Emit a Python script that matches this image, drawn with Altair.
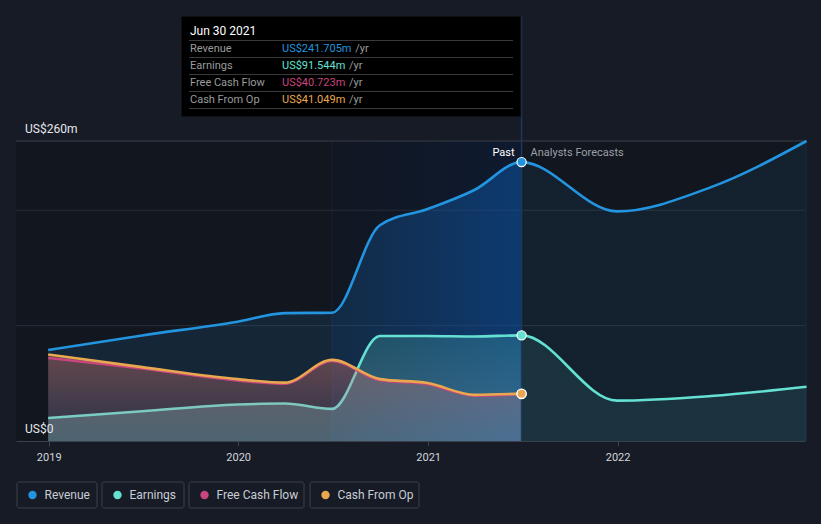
import altair as alt
import pandas as pd
import jinja2

# ---------------- data ----------------
past_dates = ["2018-12-31", "2019-06-30", "2019-12-31", "2020-03-31", "2020-06-30",
              "2020-09-30", "2020-12-31", "2021-03-31", "2021-06-30"]
revenue_past = [78.9, 91.5, 103.4, 110.8, 111.2, 187.0, 201.0, 217.5, 241.705]
earnings_past = [20.0, 25.8, 31.6, 32.5, 27.8, 91.0, 91.0, 90.6, 91.544]
fcf_past = [72.0, 62.8, 52.5, 49.6, 69.3, 52.6, 49.2, 39.3, 40.723]
cfo_past = [75.0, 64.0, 53.6, 50.6, 70.3, 53.6, 50.2, 40.0, 41.049]

forecast_dates = ["2021-06-30", "2021-12-31", "2022-06-30", "2022-12-31"]
revenue_fc = [241.705, 199.0, 220.0, 260.0]
earnings_fc = [91.544, 35.0, 39.0, 47.0]

series_names = ["Revenue", "Earnings", "Free Cash Flow", "Cash From Op"]
series_colors = ["#2394df", "#64e1d2", "#c8457f", "#e9a84f"]
tooltip_date = "Jun 30 2021"
y_tick_values = [0, 100, 200, 260]
y_tick_labels = {0: "US$0", 260: "US$260m"}
x_tick_years = [2019, 2020, 2021, 2022]
band_range = ["2020-06-30", "2021-06-30"]

# ---------------- layout ----------------
W, H = 789, 425
Y_MAX = 260 * H / 300.0
BG = "#161b26"
FONT = "Roboto"

x_scale = alt.Scale(type="utc", domain=[alt.DateTime(year=2018, month=10, date=30, utc=True),
                                        alt.DateTime(year=2022, month=12, date=28, utc=True)])
y_scale = alt.Scale(domain=[0, Y_MAX], nice=False, zero=True)

x_axis = alt.Axis(values=[alt.DateTime(year=y, month=1, date=1, utc=True) for y in x_tick_years],
                  labelExpr="utcFormat(datum.value, '%Y')", grid=False, title=None,
                  domainColor="#3b414b", tickColor="#3b414b", tickSize=5, labelColor="#d2d5da",
                  labelFontSize=11, labelFont=FONT, labelPadding=5, domainWidth=1)


def X(field):
    return alt.X(f"{field}:T", scale=x_scale, axis=x_axis)


def Y(field):
    return alt.Y(f"{field}:Q", scale=y_scale, axis=None)


def df_of(dates, vals):
    return pd.DataFrame({"date": dates, "value": vals})


all_dates = past_dates + forecast_dates[1:]
fcf_p = df_of(past_dates, fcf_past)
cfo_p = df_of(past_dates, cfo_past)
ear_p = df_of(past_dates, earnings_past)
rev_all = df_of(all_dates, revenue_past + revenue_fc[1:])
ear_all = df_of(all_dates, earnings_past + earnings_fc[1:])

t_all = pd.to_datetime(all_dates)
span = t_all[-1] - t_all[0]
split = float((pd.Timestamp(band_range[1]) - t_all[0]) / span)
band_start = float((pd.Timestamp(band_range[0]) - t_all[0]) / span)


def vgrad(top, bottom):
    return alt.Gradient(gradient="linear", x1=0, x2=0, y1=0, y2=1,
                        stops=[alt.GradientStop(offset=0, color=top),
                               alt.GradientStop(offset=1, color=bottom)])


def hgrad(left, right):
    return alt.Gradient(gradient="linear", x1=0, x2=1, y1=0, y2=0,
                        stops=[alt.GradientStop(offset=0, color=left),
                               alt.GradientStop(offset=1, color=right)])


def split_grad(past_col, fc_col):
    return alt.Gradient(gradient="linear", x1=0, x2=1, y1=0, y2=0,
                        stops=[alt.GradientStop(offset=0, color=past_col),
                               alt.GradientStop(offset=split, color=past_col),
                               alt.GradientStop(offset=split, color=fc_col),
                               alt.GradientStop(offset=1, color=fc_col)])


def band_grad(left, right):
    clear = "rgba(0,0,0,0)"
    return alt.Gradient(gradient="linear", x1=0, x2=1, y1=0, y2=0,
                        stops=[alt.GradientStop(offset=0, color=clear),
                               alt.GradientStop(offset=band_start, color=clear),
                               alt.GradientStop(offset=band_start, color=left),
                               alt.GradientStop(offset=split, color=right),
                               alt.GradientStop(offset=split, color=clear),
                               alt.GradientStop(offset=1, color=clear)])


one = pd.DataFrame({"k": [0]})

# darker plot region below the top gridline
plot_bg = alt.Chart(pd.DataFrame({"t": [260], "z": [0]})).mark_rect(color="#12161e").encode(
    x=alt.value(0), x2=alt.value(W), y=Y("t"), y2="z:Q")

# highlighted last year band
band_df = pd.DataFrame({"a": [band_range[0]], "b": [band_range[1]], "t": [260], "z": [0]})
band = alt.Chart(band_df).mark_rect(
    color=hgrad("rgba(0,40,110,0.05)", "rgba(0,40,110,0.22)")).encode(
    x=alt.X("a:T", scale=x_scale, axis=x_axis), x2="b:T", y=Y("t"), y2="z:Q")
band_edge = alt.Chart(band_df).mark_rule(color="#172338", strokeWidth=1).encode(
    x=alt.X("a:T", scale=x_scale, axis=x_axis), y=Y("t"), y2="z:Q")

# gridlines
grid_df = pd.DataFrame({"v": [v for v in y_tick_values if v != 0]})
grid = alt.Chart(grid_df).mark_rule(strokeWidth=1).encode(
    y=Y("v"), x=alt.value(0), x2=alt.value(W),
    color=alt.condition("datum.v == 260", alt.value("#3a3f48"), alt.value("#272d37")))

ylab_df = pd.DataFrame({"v": list(y_tick_labels.keys()), "t": list(y_tick_labels.values())})
ylabels = alt.Chart(ylab_df).mark_text(align="left", baseline="middle", dy=-12, font=FONT, fontSize=12,
                                        color="#e6e8eb").encode(y=Y("v"), x=alt.value(9), text="t:N")

interp = "monotone"

rev_area = alt.Chart(rev_all).mark_area(
    interpolate=interp, color=split_grad("rgba(35,148,223,0.13)", "rgba(35,148,223,0.09)")).encode(
    x=X("date"), y=Y("value"))
rev_band = alt.Chart(rev_all).mark_area(
    interpolate=interp, color=band_grad("rgba(10,80,170,0.08)", "rgba(10,80,170,0.42)")).encode(
    x=X("date"), y=Y("value"))
ear_area = alt.Chart(ear_all).mark_area(
    interpolate=interp, color=split_grad("rgba(94,224,208,0.20)", "rgba(94,224,208,0.09)")).encode(
    x=X("date"), y=Y("value"))
ear_grey = alt.Chart(ear_p).mark_area(
    interpolate=interp, color=vgrad("rgba(200,205,215,0.0)", "rgba(200,205,215,0.16)")).encode(
    x=X("date"), y=Y("value"))
fcf_area_p = alt.Chart(fcf_p).mark_area(interpolate=interp, color=vgrad("rgba(200,69,127,0.25)", "rgba(200,69,127,0.06)")).encode(
    x=X("date"), y=Y("value"))
cfo_area_p = alt.Chart(cfo_p).mark_area(interpolate=interp, color=vgrad("rgba(233,168,79,0.20)", "rgba(200,190,190,0.06)")).encode(
    x=X("date"), y=Y("value"))

SW = 2.6
rev_line = alt.Chart(rev_all).mark_line(interpolate=interp, color=series_colors[0], strokeWidth=SW).encode(x=X("date"), y=Y("value"))
ear_line = alt.Chart(ear_all).mark_line(interpolate=interp, color=series_colors[1], strokeWidth=SW).encode(x=X("date"), y=Y("value"))
fcf_line = alt.Chart(fcf_p).mark_line(interpolate=interp, color=series_colors[2], strokeWidth=SW).encode(x=X("date"), y=Y("value"))
cfo_line = alt.Chart(cfo_p).mark_line(interpolate=interp, color=series_colors[3], strokeWidth=SW).encode(x=X("date"), y=Y("value"))

# divider between past and forecasts
div_df = pd.DataFrame({"date": [band_range[1]]})
divider = alt.Chart(div_df).mark_rule(color="#1d3858", strokeWidth=1.5).encode(
    x=X("date"), y=alt.value(0), y2=alt.value(H))

past_txt = alt.Chart(div_df).mark_text(text="Past", align="right", baseline="middle", dx=-7, font=FONT,
                                       fontSize=11, color="#ffffff").encode(x=X("date"), y=alt.value(137))
fc_txt = alt.Chart(div_df).mark_text(text="Analysts Forecasts", align="left", baseline="middle", dx=9, font=FONT,
                                     fontSize=11, color="#9aa0a8").encode(x=X("date"), y=alt.value(137))

# end points
pt_df = pd.DataFrame({"date": [past_dates[-1]] * 4,
                      "value": [revenue_past[-1], earnings_past[-1], fcf_past[-1], cfo_past[-1]],
                      "s": series_names})
points = alt.Chart(pt_df).mark_point(filled=True, size=85, stroke="#ffffff", strokeWidth=1.2, opacity=1).encode(
    x=X("date"), y=Y("value"),
    fill=alt.Fill("s:N", scale=alt.Scale(domain=series_names, range=series_colors), legend=None),
    order=alt.Order("value:Q"))

# tooltip box
TX0, TX1, TY0, TY1 = 165, 505, 0, 101
tip_box = alt.Chart(one).mark_rect(color="#000000", stroke="#1c1f26", strokeWidth=1).encode(
    x=alt.value(TX0), x2=alt.value(TX1), y=alt.value(TY0), y2=alt.value(TY1))
tip_title = alt.Chart(pd.DataFrame({"t": [tooltip_date]})).mark_text(
    align="left", baseline="middle", font=FONT, fontSize=12, color="#ffffff").encode(
    x=alt.value(TX0 + 9), y=alt.value(15), text="t:N")
sep_df = pd.DataFrame({"yy": [24.5, 41.5, 58.5, 75.5, 92.5]})
tip_seps = alt.Chart(sep_df).mark_rule(color="#3a3a3a", strokeWidth=1).encode(
    x=alt.value(TX0 + 8), x2=alt.value(TX1 - 8), y=alt.Y("yy:Q", scale=None, axis=None))
tip_vals = [revenue_past[-1], earnings_past[-1], fcf_past[-1], cfo_past[-1]]
rows = pd.DataFrame({
    "name": series_names,
    "val": [f"US${v:.3f}m" for v in tip_vals],
    "yy": [33, 50, 67, 84],
    "col": series_colors,
})
rows["unit_x"] = [TX0 + 101 + len(s) * 6.2 + 5 for s in rows["val"]]
tip_names = alt.Chart(rows).mark_text(align="left", baseline="middle", font=FONT, fontSize=11, color="#9b9b9b").encode(
    x=alt.value(TX0 + 9), y=alt.Y("yy:Q", scale=None, axis=None), text="name:N")
tip_values = alt.Chart(rows).mark_text(align="left", baseline="middle", font=FONT, fontSize=11).encode(
    x=alt.value(TX0 + 101), y=alt.Y("yy:Q", scale=None, axis=None), text="val:N",
    color=alt.Color("col:N", scale=None, legend=None))
tip_units = alt.Chart(rows).mark_text(align="left", baseline="middle", font=FONT, fontSize=11, color="#9b9b9b", text="/yr").encode(
    x=alt.X("unit_x:Q", scale=None, axis=None), y=alt.Y("yy:Q", scale=None, axis=None))

# legend
leg = pd.DataFrame({
    "name": series_names,
    "col": series_colors,
    "bx0": [1, 86, 173, 294],
    "bx1": [81, 168, 288, 403],
})
leg["dot"] = leg["bx0"] + 15.5
leg["tx"] = leg["bx0"] + 27.5
LY0, LY1 = 466, 492
leg_box = alt.Chart(leg).mark_rect(fill=BG, stroke="#3a404a", strokeWidth=1, cornerRadius=2).encode(
    x=alt.X("bx0:Q", scale=None, axis=None), x2="bx1:Q", y=alt.value(LY0), y2=alt.value(LY1))
leg_dot = alt.Chart(leg).mark_circle(size=70, opacity=1).encode(
    x=alt.X("dot:Q", scale=None, axis=None), y=alt.value((LY0 + LY1) / 2),
    color=alt.Color("col:N", scale=None, legend=None))
leg_txt = alt.Chart(leg).mark_text(align="left", baseline="middle", font=FONT, fontSize=12, color="#c9cdd3").encode(
    x=alt.X("tx:Q", scale=None, axis=None), y=alt.value((LY0 + LY1) / 2), text="name:N")

chart = alt.layer(
    plot_bg, band, band_edge, grid,
    rev_area, rev_band, ear_area, ear_grey,
    rev_line, ear_line,
    fcf_area_p, cfo_area_p, fcf_line, cfo_line,
    divider, points, ylabels, past_txt, fc_txt,
    tip_box, tip_seps, tip_title, tip_names, tip_values, tip_units,
    leg_box, leg_dot, leg_txt,
).resolve_scale(color="independent", fill="independent").properties(
    width=W, height=H, background=BG,
    autosize=alt.AutoSizeParams(type="none"),
    padding={"left": 8, "top": 8, "right": 8, "bottom": 75},
).configure_view(stroke=None)

PAGE = jinja2.Template("""<!DOCTYPE html>
<html>
<head>
  <style>
    body { background: """ + BG + """; }
    #{{ output_div }}.vega-embed { width: 100%; display: flex; }
  </style>
  <script type="text/javascript" src="{{ base_url }}/vega@{{ vega_version }}"></script>
  <script type="text/javascript" src="{{ base_url }}/vega-lite@{{ vegalite_version }}"></script>
  <script type="text/javascript" src="{{ base_url }}/vega-embed@{{ vegaembed_version }}"></script>
</head>
<body>
  <div id="{{ output_div }}"></div>
  <script>
    (function(vegaEmbed) {
      var spec = {{ spec }};
      var embedOpt = {{ embed_options }};
      vegaEmbed("#{{ output_div }}", spec, embedOpt).catch(console.error);
    })(vegaEmbed);
  </script>
</body>
</html>""")

chart.save("out.html", embed_options={"renderer": "svg", "actions": False}, template=PAGE)
